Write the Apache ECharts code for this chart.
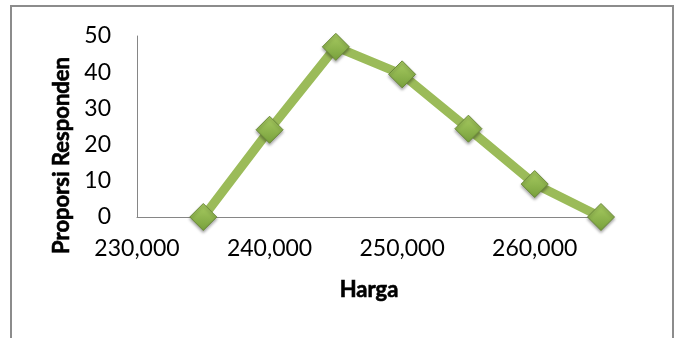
<!DOCTYPE html>
<html>
<head>
<meta charset="utf-8">
<script src="https://cdn.jsdelivr.net/npm/echarts@6/dist/echarts.min.js"></script>
<style>
  html, body { margin: 0; padding: 0; background: #ffffff; }
  #chart { width: 681px; height: 338px; }
</style>
</head>
<body>
<div id="chart"></div>
<script>
// Harga (price) vs. share of respondents
const harga = [235000, 240000, 245000, 250000, 255000, 260000, 265000];
const proporsi = [0, 24.1, 47.0, 39.4, 24.4, 9.1, 0];

const FONT = 'Lato, "Open Sans", sans-serif';
const GREEN = '#9BBB59';

const nameStyle = {
  fontFamily: FONT, fontWeight: 'bold', fontSize: 22, color: '#000',
  textBorderColor: '#000', textBorderWidth: 0.6
};

const chart = echarts.init(document.getElementById('chart'), null, { renderer: 'canvas' });

chart.setOption({
  backgroundColor: '#ffffff',
  animation: false,
  graphic: [{
    type: 'rect',
    shape: { x: 11, y: 6, width: 662, height: 345 },
    style: { fill: 'none', stroke: '#8c8c8c', lineWidth: 2 },
    z: -1
  }],
  grid: { left: 137, right: 80, top: 36, bottom: 121, containLabel: false },
  xAxis: {
    type: 'value',
    min: 230000,
    max: 265000,
    interval: 10000,
    name: 'Harga',
    nameLocation: 'middle',
    nameGap: 62,
    nameTextStyle: nameStyle,
    axisLine: { show: true, lineStyle: { color: '#868686', width: 1 } },
    axisTick: { show: false },
    splitLine: { show: false },
    axisLabel: {
      showMaxLabel: false,
      margin: 20,
      fontFamily: FONT,
      fontSize: 23,
      color: '#000',
      formatter: v => v.toLocaleString('en-US')
    }
  },
  yAxis: {
    type: 'value',
    min: 0,
    max: 50,
    interval: 10,
    name: 'Proporsi Responden',
    nameLocation: 'middle',
    nameGap: 57,
    nameTextStyle: Object.assign({}, nameStyle, { padding: [0, 58, 0, 0] }),
    axisLine: { show: true, lineStyle: { color: '#868686', width: 1 } },
    axisTick: { show: false },
    splitLine: { show: false },
    axisLabel: { margin: 26, fontFamily: FONT, fontSize: 23, color: '#000' }
  },
  series: [{
    type: 'line',
    data: harga.map((x, i) => [x, proporsi[i]]),
    symbol: 'diamond',
    symbolSize: 27,
    lineStyle: { color: GREEN, width: 9 },
    itemStyle: {
      color: new echarts.graphic.LinearGradient(0, 0, 0, 1, [
        { offset: 0, color: '#a9cc62' },
        { offset: 1, color: '#77a03c' }
      ]),
      borderColor: '#6b8a3a',
      borderWidth: 1,
      shadowColor: 'rgba(0,0,0,0.35)',
      shadowBlur: 3,
      shadowOffsetY: 2
    },
    z: 3
  }]
});
</script>
</body>
</html>
